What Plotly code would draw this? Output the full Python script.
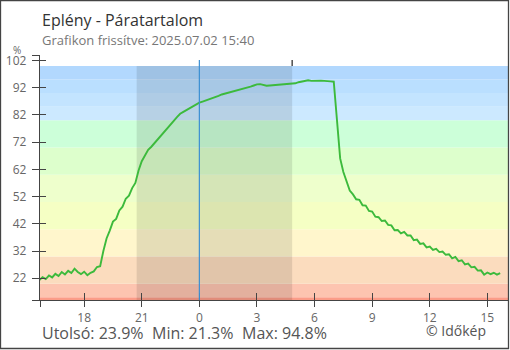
import plotly.graph_objects as go
import pandas as pd

# ---------------- data ----------------
TITLE = "Eplény - Páratartalom"
SUBTITLE = "Grafikon frissítve: 2025.07.02 15:40"
UNIT = "%"

humidity = [
    21.3, 22.4, 21.7, 23.0, 22.3, 23.6, 22.8, 24.3, 23.4, 24.7, 23.9, 25.5,   # 15:40-17:30
    24.3, 23.5, 24.4, 23.1, 24.0, 24.5, 26.1, 26.4,                           # 17:40-18:50
    32.0, 36.6, 39.5, 42.8, 43.8, 46.9, 48.3, 51.2, 52.3, 55.1, 57.0, 61.6,   # 19:00-20:50
    65.0, 67.4, 69.2, 70.3, 71.6, 72.9, 74.4, 75.6, 77.1, 78.3, 79.8, 81.2,   # 21:00-22:50
    82.4, 83.1, 83.8, 84.5, 85.3, 86.0,                                       # 23:00-23:50
    86.5, 86.9, 87.3, 87.6, 88.1, 88.6, 89.0, 89.5, 89.8, 90.3, 90.6, 90.8,   # 00:00-01:50
    91.2, 91.5, 91.8, 92.1, 92.4, 92.8, 93.2, 93.3, 93.0, 92.7, 92.8, 92.9,   # 02:00-03:50
    92.9, 93.0, 93.0, 93.1, 93.2, 93.3, 93.6, 94.0, 94.2, 94.5, 94.7, 94.5,   # 04:00-05:50
    94.6, 94.5, 94.6, 94.5, 94.5, 94.3, 94.2, 80.5, 66.0, 61.0, 57.3, 54.2,   # 06:00-07:50
    52.8, 51.0, 50.8, 48.8, 48.7, 46.7, 46.5, 44.6, 44.4, 43.0, 43.2, 41.6,   # 08:00-09:50
    41.4, 39.6, 39.7, 38.5, 39.0, 37.7, 37.7, 36.0, 36.2, 34.6, 34.8, 33.3,   # 10:00-11:50
    33.6, 32.4, 32.8, 31.6, 31.8, 30.6, 30.8, 29.3, 29.8, 28.3, 28.6, 27.1,   # 12:00-13:50
    27.4, 26.0, 26.2, 24.8, 24.9, 23.3, 24.1, 23.5, 24.0, 23.3, 23.9,         # 14:00-15:40
]
times = pd.date_range("2025-07-01 15:40", "2025-07-02 15:40", freq="10min")
assert len(times) == len(humidity)

stat_last = 23.9
stat_min = 21.3
stat_max = 94.8

x_range = ["2025-07-01 15:42", "2025-07-02 16:04:30"]
x_tick_vals = ["2025-07-01 18:00", "2025-07-01 21:00", "2025-07-02 00:00",
               "2025-07-02 03:00", "2025-07-02 06:00", "2025-07-02 09:00",
               "2025-07-02 12:00", "2025-07-02 15:00"]
x_tick_text = ["18", "21", "0", "3", "6", "9", "12", "15"]

y_range = [14, 104]
y_tick_vals = [22, 32, 42, 52, 62, 72, 82, 92, 102]

band_edges = [14, 15, 20, 30, 40, 50, 60, 70, 80, 85, 90, 95, 100]
band_colors = ["#fb9c88", "#fdc4b0", "#fbdcbe", "#fff6cc", "#f5ffc4", "#eeffcc",
               "#ddffcc", "#ccffd9", "#cce9ff", "#c3e4ff", "#badfff", "#b2d8fe"]

midnight = "2025-07-02 00:00"
night_start = "2025-07-01 20:44"
night_end = "2025-07-02 04:50"

# ---------------- layout geometry ----------------
W, H = 510, 350
L, R, T, B = 40, 2, 55, 50
PW, PH = W - L - R, H - T - B
FONT = "Open Sans"


def px(xp):
    return (xp - L) / PW


def py(yp):
    return (H - B - yp) / PH


fig = go.Figure()

fig.add_trace(go.Scatter(
    x=times, y=humidity, mode="lines",
    line=dict(color="#3cba3c", width=1.9),
    hoverinfo="skip", showlegend=False,
))
# invisible trace for the overlay axes
fig.add_trace(go.Scatter(x=[times[0]], y=[humidity[0]], xaxis="x2", yaxis="y2",
                         mode="markers", marker=dict(opacity=0), hoverinfo="skip",
                         showlegend=False))

shapes = []
for i, c in enumerate(band_colors):
    shapes.append(dict(type="rect", xref="paper", yref="y", x0=0, x1=1,
                       y0=band_edges[i], y1=band_edges[i + 1],
                       fillcolor=c, line=dict(width=0), layer="below"))
shapes.append(dict(type="rect", xref="x", yref="y", x0=night_start, x1=night_end,
                   y0=y_range[0], y1=band_edges[-1],
                   fillcolor="rgba(0,0,0,0.10)", line=dict(width=0), layer="below"))
shapes.append(dict(type="line", xref="x", yref="y", x0=midnight, x1=midnight,
                   y0=y_range[0], y1=102.2,
                   line=dict(color="#3b8fd3", width=1.2), layer="above"))
shapes.append(dict(type="line", xref="x", yref="y", x0=night_end, x1=night_end,
                   y0=band_edges[-1], y1=102.2,
                   line=dict(color="#333333", width=1.3), layer="above"))
# frame around whole picture
shapes.append(dict(type="rect", xref="paper", yref="paper",
                   x0=px(0.5), x1=px(W - 1.5), y0=py(H - 1.5), y1=py(0.5),
                   line=dict(color="#444444", width=1.3), fillcolor="rgba(0,0,0,0)",
                   layer="above"))

annotations = [
    dict(text=TITLE, x=px(40), y=py(19.5), xanchor="left", yanchor="middle",
         font=dict(family=FONT, size=16, color="#333333")),
    dict(text=SUBTITLE, x=px(40), y=py(40.5), xanchor="left", yanchor="middle",
         font=dict(family=FONT, size=13, color="#777777")),
    dict(text=UNIT, x=px(16.5), y=py(50), xanchor="center", yanchor="middle",
         font=dict(family=FONT, size=10, color="#666666")),
    dict(text=f"Utolsó: {stat_last}%", x=px(40), y=py(333), xanchor="left",
         yanchor="middle", font=dict(family=FONT, size=16, color="#555555")),
    dict(text=f"Min: {stat_min}%", x=px(150), y=py(333), xanchor="left",
         yanchor="middle", font=dict(family=FONT, size=16, color="#555555")),
    dict(text=f"Max: {stat_max}%", x=px(239.5), y=py(333), xanchor="left",
         yanchor="middle", font=dict(family=FONT, size=16, color="#555555")),
    dict(text="© Időkép", x=px(424), y=py(330.5), xanchor="left",
         yanchor="middle", font=dict(family=FONT, size=14, color="#555555")),
]
for a in annotations:
    a.update(xref="paper", yref="paper", showarrow=False)

axis_line = dict(showline=True, linecolor="#444444", linewidth=1.3,
                 tickcolor="#444444", tickwidth=1.3, showgrid=False, zeroline=False)

fig.update_layout(
    width=W, height=H,
    margin=dict(l=L, r=R, t=T, b=B, pad=0),
    paper_bgcolor="white", plot_bgcolor="white",
    showlegend=False,
    shapes=shapes, annotations=annotations,
    xaxis=dict(type="date", range=x_range,
               tickvals=[x_range[0]] + x_tick_vals, ticktext=[""] + x_tick_text,
               ticks="outside", ticklen=6,
               tickfont=dict(family=FONT, size=12, color="#666666"),
               **axis_line),
    xaxis2=dict(type="date", range=x_range, overlaying="x", anchor="y", side="bottom",
                tickvals=x_tick_vals, ticks="inside", ticklen=7,
                showticklabels=False, showgrid=False, zeroline=False,
                showline=False, tickcolor="#444444", tickwidth=1.3),
    yaxis=dict(range=y_range,
               tickvals=[y_range[0]] + y_tick_vals + [y_range[1]],
               ticktext=[""] + [str(v) for v in y_tick_vals] + [""],
               ticks="outside", ticklen=7, ticklabelstandoff=3,
               tickfont=dict(family=FONT, size=12, color="#666666"),
               **axis_line),
    yaxis2=dict(range=y_range, overlaying="y", anchor="x", side="left",
                tickvals=y_tick_vals + [y_range[1]], ticks="inside", ticklen=6,
                showticklabels=False, showgrid=False, zeroline=False,
                showline=False, tickcolor="#444444", tickwidth=1.3),
)

fig.write_html("out.html")
